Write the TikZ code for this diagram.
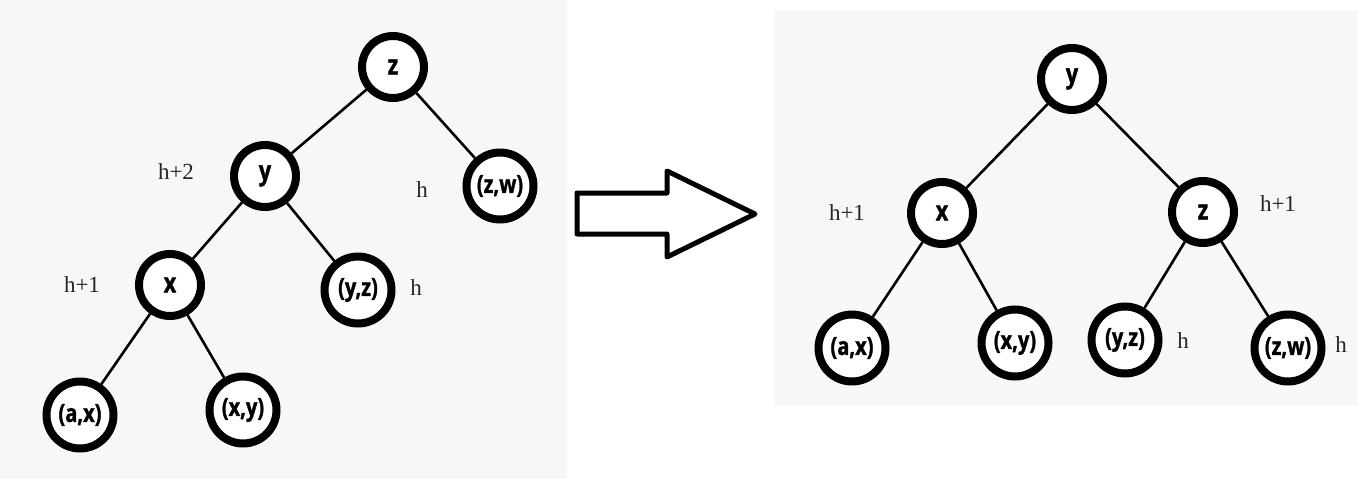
\documentclass[tikz,border=0pt]{standalone}
\usepackage{fontspec}
\newfontfamily\nodefont{Open Sans}[FakeStretch=0.8,BoldFeatures={FakeBold=1.2}]
\newfontfamily\labfont{Liberation Serif}
\begin{document}
\begin{tikzpicture}[x=1pt,y=-1pt,
  inner/.style={circle,draw=black,line width=8pt,fill=white,minimum size=62pt,inner sep=0pt,font=\nodefont\bfseries\fontsize{27}{30}\selectfont},
  leaf/.style={inner,minimum size=67pt,font=\nodefont\bfseries\fontsize{25}{28}\selectfont},
  lab/.style={font=\labfont\fontsize{23}{26}\selectfont,text=black!85},
  edge/.style={line width=2.6pt}]
\useasboundingbox (0,0) rectangle (1358,479);
\fill[black!3] (0,0) rectangle (567,479);
\fill[black!3] (774,11) rectangle (1358,405);
% left tree
\node[inner] (z) at (393,67) {z};
\node[inner] (y) at (265,176) {y};
\node[leaf] (zw) at (500,186) {(z,w)};
\node[inner] (x) at (170,285) {x};
\node[leaf] (yz) at (358,290) {(y,z)};
\node[leaf] (ax) at (80,415) {(a,x)};
\node[leaf] (xy) at (243,410) {(x,y)};
\draw[edge] (z) -- (y);
\draw[edge] (z) -- (zw);
\draw[edge] (y) -- (x);
\draw[edge] (y) -- (yz);
\draw[edge] (x) -- (ax);
\draw[edge] (x) -- (xy);
\node[lab] (l1) at (176,172) {h+2};
\node[lab] (l2) at (422,190) {h};
\node[lab] (l3) at (82,285) {h+1};
\node[lab] (l4) at (416,288) {h};
% arrow
\draw[line width=5pt,line join=round,fill=white] (577,193) -- (667,193) -- (667,171) -- (755,214) -- (667,257) -- (667,234) -- (577,234) -- cycle;
% right tree
\node[inner] (ry) at (1072,79) {y};
\node[inner] (rx) at (942,213) {x};
\node[inner] (rz) at (1203,212) {z};
\node[leaf] (rax) at (852,348) {(a,x)};
\node[leaf] (rxy) at (1015,343) {(x,y)};
\node[leaf] (ryz) at (1125,340) {(y,z)};
\node[leaf] (rzw) at (1288,348) {(z,w)};
\draw[edge] (ry) -- (rx);
\draw[edge] (ry) -- (rz);
\draw[edge] (rx) -- (rax);
\draw[edge] (rx) -- (rxy);
\draw[edge] (rz) -- (ryz);
\draw[edge] (rz) -- (rzw);
\node[lab] (r1) at (847,213) {h+1};
\node[lab] (r2) at (1278,204) {h+1};
\node[lab] (r3) at (1183,341) {h};
\node[lab] (r4) at (1341,345) {h};
\end{tikzpicture}
\end{document}
